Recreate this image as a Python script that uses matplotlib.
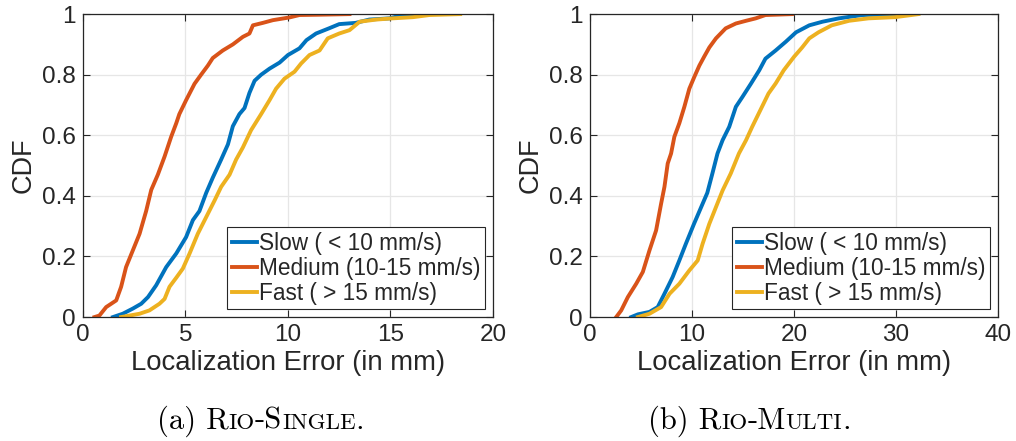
import matplotlib.pyplot as plt

# Rio-Single (x in mm, y = CDF)
single_slow_x = [1.46, 1.94, 2.43, 2.84, 3.17, 3.57, 4.06, 4.55, 5.03, 5.36, 5.68, 6.01, 6.33, 6.74, 7.07, 7.31,
                 7.63, 7.88, 8.12, 8.37, 8.69, 9.1, 9.59, 10.0, 10.56, 10.9, 11.37, 12.0, 12.5, 13.3, 13.97,
                 14.95, 15.76, 16.25]
single_slow_y = [0, 0.011, 0.028, 0.044, 0.066, 0.105, 0.165, 0.21, 0.264, 0.32, 0.35, 0.41, 0.46, 0.52, 0.57, 0.63,
                 0.67, 0.69, 0.74, 0.78, 0.80, 0.82, 0.84, 0.865, 0.887, 0.914, 0.936, 0.953, 0.967, 0.971, 0.982,
                 0.986, 1.0, 1.0]
single_med_x = [0.56, 0.8, 1.13, 1.62, 1.86, 2.1, 2.43, 2.76, 3.08, 3.33, 3.65, 3.98, 4.3, 4.55, 4.7, 5.03, 5.44,
                5.76, 6.09, 6.33, 6.82, 7.31, 7.8, 8.12, 8.29, 8.77, 9.26, 10.07, 10.56, 11.5, 13.0]
single_med_y = [0, 0.005, 0.033, 0.055, 0.10, 0.165, 0.22, 0.275, 0.35, 0.42, 0.47, 0.53, 0.595, 0.64, 0.67, 0.716,
                0.77, 0.80, 0.83, 0.855, 0.88, 0.90, 0.925, 0.936, 0.963, 0.971, 0.98, 0.989, 0.997, 0.998, 1.0]
single_fast_x = [1.86, 2.27, 2.76, 3.24, 3.73, 3.98, 4.22, 4.55, 4.87, 5.2, 5.6, 6.01, 6.42, 6.74, 7.15, 7.47, 7.8,
                 8.2, 8.69, 9.1, 9.42, 9.83, 10.32, 10.64, 11.05, 11.54, 11.94, 12.5, 13.0, 13.5, 14.3, 15.1,
                 16.1, 16.9, 18.4]
single_fast_y = [0, 0.005, 0.011, 0.022, 0.044, 0.06, 0.10, 0.13, 0.16, 0.21, 0.275, 0.33, 0.385, 0.43, 0.47, 0.52,
                 0.56, 0.617, 0.67, 0.716, 0.754, 0.787, 0.81, 0.837, 0.865, 0.88, 0.92, 0.936, 0.947, 0.975,
                 0.982, 0.986, 0.99, 0.997, 1.0]

# Rio-Multi
multi_slow_x = [4.04, 4.7, 5.83, 6.64, 7.3, 8.1, 8.76, 9.4, 10.2, 10.9, 11.5, 12.0, 12.5, 13.0, 13.65, 14.3, 14.95,
                15.77, 16.6, 17.2, 18.2, 19.2, 20.2, 21.5, 22.8, 24.4, 26.7, 30.6]
multi_slow_y = [0, 0.009, 0.017, 0.033, 0.077, 0.132, 0.187, 0.242, 0.308, 0.363, 0.41, 0.474, 0.54, 0.584, 0.628,
                0.694, 0.727, 0.77, 0.815, 0.853, 0.88, 0.909, 0.94, 0.963, 0.975, 0.986, 0.997, 1.0]
multi_med_x = [2.57, 3.06, 3.71, 4.53, 5.18, 5.83, 6.48, 6.97, 7.3, 7.62, 7.95, 8.27, 8.76, 9.25, 9.74, 10.23, 10.72,
               11.2, 11.7, 12.35, 13.3, 14.3, 15.3, 16.25, 17.2, 19.8]
multi_med_y = [0, 0.022, 0.066, 0.11, 0.149, 0.22, 0.286, 0.374, 0.43, 0.507, 0.54, 0.595, 0.64, 0.694, 0.754, 0.793,
               0.83, 0.86, 0.89, 0.92, 0.953, 0.969, 0.978, 0.986, 0.997, 1.0]
multi_fast_x = [4.7, 5.83, 6.97, 7.8, 8.76, 9.74, 10.56, 11.04, 11.7, 12.35, 13.0, 13.8, 14.6, 15.3, 15.9, 16.7, 17.5,
                18.2, 19.0, 20.0, 20.8, 21.5, 22.4, 23.7, 25.4, 27.3, 29.9, 32.2]
multi_fast_y = [0, 0.011, 0.033, 0.077, 0.11, 0.154, 0.187, 0.242, 0.308, 0.363, 0.418, 0.474, 0.54, 0.584, 0.628,
                0.683, 0.738, 0.771, 0.815, 0.859, 0.89, 0.92, 0.94, 0.963, 0.978, 0.986, 0.99, 1.0]

labels = ['Slow ( < 10 mm/s)', 'Medium (10-15 mm/s)', 'Fast ( > 15 mm/s)']
colors = ['#0072BD', '#D95319', '#EDB120']
y_ticks = [0, 0.2, 0.4, 0.6, 0.8, 1]
y_ticklabels = ['0', '0.2', '0.4', '0.6', '0.8', '1']

plt.rcParams['font.family'] = ['Liberation Sans', 'DejaVu Sans']

fig = plt.figure(figsize=(10.16, 4.41), dpi=100)
ax1 = fig.add_axes([0.0817, 0.281, 0.4035, 0.687])
ax2 = fig.add_axes([0.5807, 0.281, 0.4016, 0.687])


def style_axes(ax, series, xmax, xticks):
    for (x, y), lab, c in zip(series, labels, colors):
        ax.plot(x, y, color=c, lw=2.8, label=lab, solid_joinstyle='round')
    ax.set_xlim(0, xmax)
    ax.set_ylim(0, 1)
    ax.set_xticks(xticks)
    ax.set_xticklabels([str(t) for t in xticks])
    ax.set_yticks(y_ticks)
    ax.set_yticklabels(y_ticklabels)
    ax.tick_params(direction='in', top=True, right=True, labelsize=17.5, length=5,
                   width=0.8, colors='#262626', pad=5)
    ax.grid(True, color='#e6e6e6', lw=0.9)
    ax.set_axisbelow(True)
    for s in ax.spines.values():
        s.set_color('#262626')
        s.set_linewidth(0.9)
    ax.set_xlabel('Localization Error (in mm)', fontsize=19.8, color='#262626', labelpad=3)
    ax.set_ylabel('CDF', fontsize=19.5, color='#262626', labelpad=4)
    leg = ax.legend(loc='lower right', fontsize=16.3, handlelength=1.1, handletextpad=0.1,
                    borderpad=0.2, labelspacing=0.08, fancybox=False, framealpha=1,
                    edgecolor='#262626', borderaxespad=0.35, handleheight=0.6)
    leg.get_frame().set_linewidth(0.8)
    for t in leg.get_texts():
        t.set_color('#262626')


style_axes(ax1, [(single_slow_x, single_slow_y), (single_med_x, single_med_y),
                 (single_fast_x, single_fast_y)], 20, [0, 5, 10, 15, 20])
style_axes(ax2, [(multi_slow_x, multi_slow_y), (multi_med_x, multi_med_y),
                 (multi_fast_x, multi_fast_y)], 40, [0, 10, 20, 30, 40])


def caption(x_center, y, pieces):
    # pieces: (text, size); drawn side by side to fake small caps
    fig.canvas.draw()
    r = fig.canvas.get_renderer()
    texts = []
    for s, size in pieces:
        texts.append(fig.text(0, y, s, fontsize=size, family='cmr10', va='baseline'))
    widths = [t.get_window_extent(r).width for t in texts]
    x = x_center * fig.bbox.width - sum(widths) / 2
    for t, w in zip(texts, widths):
        t.set_x(x / fig.bbox.width)
        x += w


big, small = 22, 16.5
caption(0.2565, 0.028, [('(a) R', big), ('IO', small), ('-S', big), ('INGLE', small), ('.', big)])
caption(0.7375, 0.028, [('(b) R', big), ('IO', small), ('-M', big), ('ULTI', small), ('.', big)])

fig.savefig('out.png', dpi=100)
